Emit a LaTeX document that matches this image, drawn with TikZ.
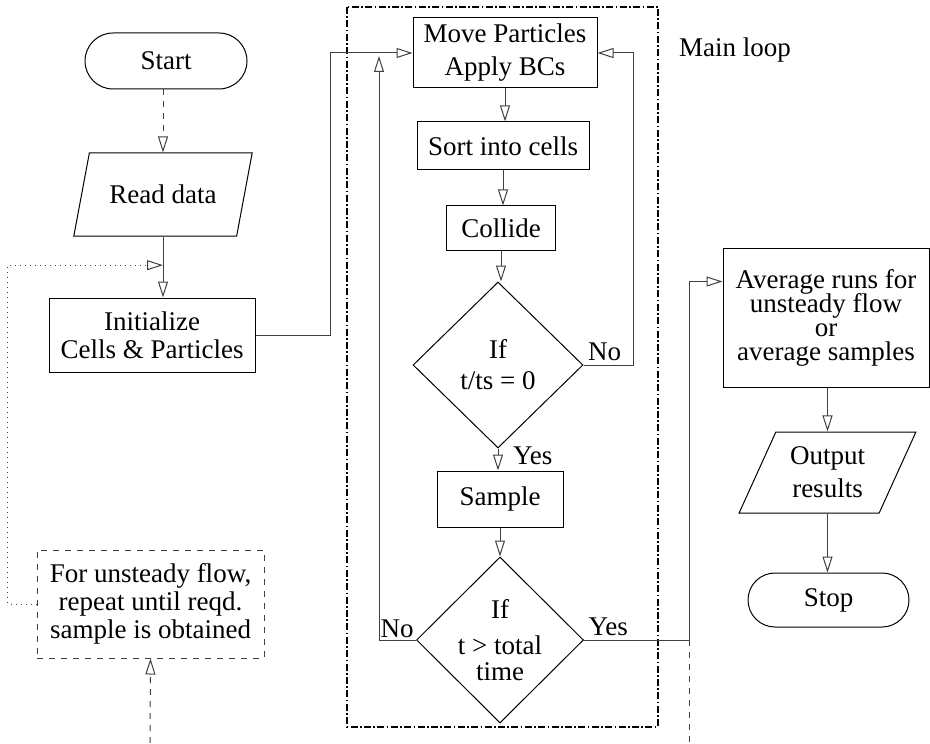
\documentclass[tikz,border=0pt]{standalone}
\usepackage{fontspec}
\setmainfont{Liberation Serif}
\usetikzlibrary{arrows.meta,calc,positioning,shapes.geometric,shapes.misc}
\tikzset{line/.style={draw=black!75,line width=0.5pt},arr/.style={line,-{Triangle[open,length=8pt,width=5pt]}}}

\begin{document}
\begin{tikzpicture}[x=0.5pt,y=-0.5pt,font=\fontsize{13.5}{14}\selectfont]

\tikzset{box/.style={draw,line width=0.5pt,align=center,inner sep=1pt},
terminal/.style={box,shape=rounded rectangle},
io/.style={box,shape=trapezium,trapezium left angle=63,trapezium right angle=117,trapezium stretches=true},
test/.style={box,shape=diamond,inner sep=0pt}}

\useasboundingbox (0,0) rectangle (930,743);

% Nodes
\node[terminal,minimum width=83pt,minimum height=28pt] (start) at (166,61) {Start};
\node[io,minimum width=89.5pt,minimum height=41.5pt] (read) at (163,194.5) {Read data};
\node[box,minimum width=103pt,minimum height=37pt] (init) at (152,335) {Initialize\\Cells \& Particles};
\node[box,dashed,draw=black!75,minimum width=113.5pt,minimum height=54pt] (repeat) at (150.5,604) {For unsteady flow,\\repeat until reqd.\\sample is obtained};

\node[box,minimum width=92pt,minimum height=35pt] (move) at (505,53) {Move Particles\\[2.5pt]Apply BCs};
\node[box,minimum width=86pt,minimum height=24pt] (sort) at (503,146) {Sort into cells};
\node[box,minimum width=54.5pt,minimum height=22pt] (collide) at (501,228) {Collide};
\node[test,minimum width=85pt,minimum height=83pt] (test1) at (498,365) {If\\[1.5pt]t/ts = 0};
\node[box,minimum width=63pt,minimum height=28pt] (sample) at (500,499) {Sample};
\node[test,minimum width=83.5pt,minimum height=83pt] (test2) at (500,640) {If\\[4pt]t > total\\[-1pt]time};

\node[box,minimum width=103pt,minimum height=69.5pt] (avg) at (826,317.5) {Average runs for\\[-2pt]unsteady flow\\[-2pt]or\\[-2pt]average samples};
\node[io,minimum width=89pt,minimum height=40.5pt] (output) at (827.5,472.5) {Output\\[2.5pt]results};
\node[terminal,minimum width=82.5pt,minimum height=27pt] (stop) at (828.5,600) {Stop};

% Main loop frame
\draw[line width=1pt,dash pattern=on 3.5pt off 1.2pt on 0.8pt off 1.2pt] (347,7) rectangle (658,727);
\node (looplabel) at (735,50) {Main loop};

% Connectors
\draw[arr,dashed] (start.south -| read.north) -- (read.north);
\draw[arr] (read.south) -- (read.south |- init.north);
\draw[arr] (init.east) -- ++(75,0) |- (move.west);
\foreach \a/\b in {move/sort,sort/collide,collide/test1,test1/sample,sample/test2} \draw[arr] (\a.south) -- (\a.south |- \b.north);
\draw[arr] (test1.east) -- node[pos=0,above right,inner sep=2pt] (no1) {No} ++(50,0) |- (move.east);
\node[anchor=west] (yes1) at ($(test1.south)+(8,7)$) {Yes};
\draw[arr,shorten >=1.5pt] (test2.west) -- node[pos=0,above left,inner sep=1pt] (no2) {No} ++(-37,0) coordinate (nobend) -- (nobend |- move.west);
\draw[arr] (test2.east) -- node[pos=0,above right,inner sep=2pt] (yes2) {Yes} ++(105,0) coordinate (yesbend) |- ($(avg.north west)+(0,34)$);
\draw[arr] (output.north |- avg.south) -- (output.north);
\draw[arr] (output.south) -- (output.south |- stop.north);

% Unsteady repeat
\coordinate (feedin) at (150,743);
\coordinate (join) at ($(read.south)!0.47!(read.south |- init.north)$);
\draw[arr,dashed] (feedin) -- (repeat.south);
\draw[arr,dotted] (repeat.west) -- ++(-29,0) |- (join);
\draw[line,dashed] (yesbend) -- (yesbend |- feedin);

\end{tikzpicture}
\end{document}
